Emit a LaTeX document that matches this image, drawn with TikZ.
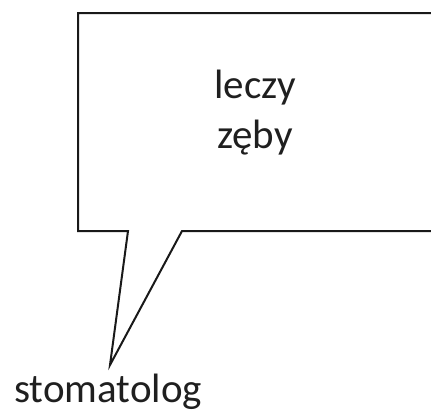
\documentclass[tikz,border=0pt]{standalone}
\usepackage{fontspec}
\setmainfont{Carlito}
\begin{document}
\begin{tikzpicture}[x=1pt,y=-1pt,
  txt/.style={font=\fontsize{41}{50}\selectfont, text=black!88, inner sep=0pt},
  bubble/.style={draw=black!90, line width=2pt, line join=miter}]
\useasboundingbox (0,0) rectangle (431,410);
\clip (0,0) rectangle (431,410);
\draw[bubble] (78,13) -- (445,13) -- (445,231) -- (182,231) -- (110,365) coordinate (tip) -- (128,231) -- (78,231) -- cycle;
\node[txt, anchor=base] (l1) at (255,98) {leczy};
\node[txt, anchor=base] (l2) at (255,148) {zęby};
\node[txt, anchor=base west] (who) at (14,402) {stomatolog};
\end{tikzpicture}
\end{document}
